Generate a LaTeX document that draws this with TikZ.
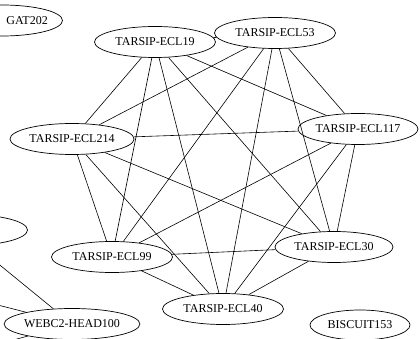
\documentclass[tikz,border=0pt]{standalone}
\usepackage{fontspec}
\setmainfont{Liberation Serif}
\usetikzlibrary{shapes.geometric}
\begin{document}
\begin{tikzpicture}[x=1pt,y=-1pt,
  nd/.style={draw,ellipse,line width=0.7pt,inner sep=0pt,minimum width=121pt,minimum height=31pt,font=\fontsize{12}{14}\selectfont},
  ed/.style={line width=0.6pt}]
\path[use as bounding box] (0,0) rectangle (420,339);
\clip (0,0) rectangle (420,339);
% peripheral nodes
\node[nd] (gat) at (2,20.5) {};
\node[font=\fontsize{12}{14}\selectfont,anchor=east,inner sep=0pt] (gattext) at (48,21) {GAT202};
\node[nd] (leftnode) at (-33,230) {};
\node[nd,minimum width=128pt] (webc) at (72,324) {WEBC2-HEAD100};
\node[nd,minimum width=100pt,minimum height=30pt] (bisc) at (360,325) {BISCUIT153};
% clique
\node[nd] (e19) at (155,42) {TARSIP-ECL19};
\node[nd] (e53) at (275,33) {TARSIP-ECL53};
\node[nd,minimum width=124pt] (e214) at (72,139) {TARSIP-ECL214};
\node[nd,minimum width=120pt] (e117) at (358,129) {TARSIP-ECL117};
\node[nd] (e99) at (112,257) {TARSIP-ECL99};
\node[nd,minimum width=118pt] (e30) at (334,247) {TARSIP-ECL30};
\node[nd] (e40) at (223,309) {TARSIP-ECL40};
\foreach \a/\b in {e19/e53,e19/e214,e19/e117,e19/e99,e19/e30,e19/e40,
  e53/e214,e53/e117,e53/e99,e53/e30,e53/e40,
  e214/e117,e214/e99,e214/e30,e214/e40,
  e117/e99,e117/e30,e117/e40,
  e99/e30,e99/e40,
  e30/e40}
  \draw[ed] (\a) -- (\b);
% edges entering from outside
\coordinate (o1) at (-10,257);
\coordinate (o2) at (-10,303);
\coordinate (o3) at (-5,345);
\draw[ed] (o1) -- (webc);
\draw[ed] (o2) -- (webc);
\draw[ed] (o3) -- (webc);
\end{tikzpicture}
\end{document}
